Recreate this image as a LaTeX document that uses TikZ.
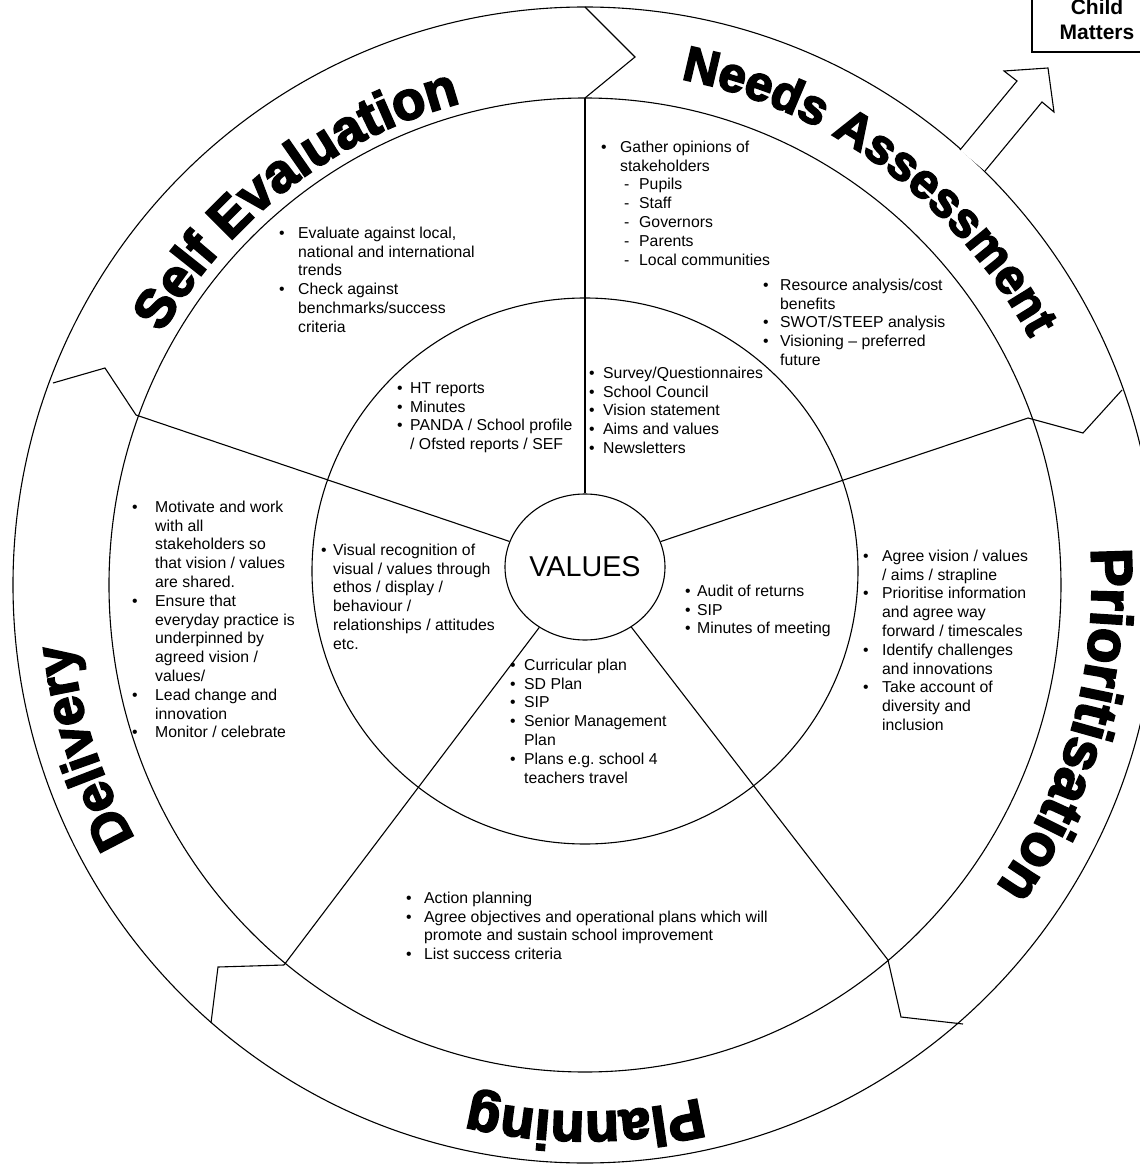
\documentclass[tikz,border=0pt]{standalone}
\usepackage{fontspec}
\setmainfont{Liberation Sans}
\newfontfamily\labelfamily{Liberation Sans}[BoldFeatures={FakeBold=3.5}]
\usetikzlibrary{shapes.geometric,decorations.text}
\frenchspacing
\newcommand{\bodysize}{\fontsize{15.8}{18.8}\selectfont}
\newcommand{\blist}[2]{\begin{tabular}{@{}p{#1}@{}l@{}}#2\end{tabular}}
\newcommand{\dashitem}{\makebox[19pt][l]{\hspace{4pt}-}}
\tikzset{
  ring/.style={line width=1.1pt},
  note/.style={anchor=north west, inner sep=0pt, font=\bodysize},
  bandlabel/.style 2 args={decorate, decoration={text along path, text align=center,
      text={|\labelfamily\bfseries\fontsize{#1}{#1}\selectfont|#2}}}
}
\begin{document}
\begin{tikzpicture}[x=1pt,y=1pt]
  \useasboundingbox (-585,-583) rectangle (555,585);
  \fill[white] (-585,-583) rectangle (555,585);
  \draw[ring] (0,0) ellipse[x radius=572pt, y radius=578pt];
  \draw[ring] (0,0) ellipse[x radius=476pt, y radius=487pt];
  \draw[ring] (0,14) circle[radius=273pt];
  \node[draw, ring, ellipse, minimum width=160, minimum height=146, inner sep=0pt,
    font=\fontsize{28.7}{30}\selectfont] (values) at (0,18) {VALUES};
  \path
    (0,487) coordinate (in1)
    (443,167) coordinate (in2)
    (303,-375) coordinate (in3)
    (-301,-380) coordinate (in4)
    (-449,170) coordinate (in5)
    (50,528) coordinate (tip1)
    (498,152) coordinate (tip2)
    (316,-432) coordinate (tip3)
    (-367,-382) coordinate (tip4)
    (-480,217) coordinate (tip5)
    (0,578) coordinate (out1)
    (537,195) coordinate (out2)
    (378,-439) coordinate (out3)
    (-374,-438) coordinate (out4)
    (-532,202) coordinate (out5);
  \begin{scope}[ring]
    \draw (values) to (in1);
    \draw (values) to (in2);
    \draw (values) to (in3);
    \draw (values) to (in4);
    \draw (values) to (in5);
    \draw (out1) -- (tip1) -- (in1);
    \draw (out2) -- (tip2) -- (in2);
    \draw (out3) -- (tip3) -- (in3);
    \draw (out4) -- (tip4) -- (in4);
    \draw (out5) -- (tip5) -- (in5);
  \end{scope}
  \draw[ring, fill=white] (375,435) -- (432,504) -- (419,514) -- (463,517)
    -- (469,473) -- (457,483) -- (400,414);
  \draw[ring] (447,533) rectangle (577,615);
  \node[inner sep=0pt, align=center, font=\bfseries\fontsize{21}{25}\selectfont]
    (ecm) at (512,566) {Child\\Matters};
  \path[bandlabel={54}{Self Evaluation}] (172:490pt and 498pt)
    arc[start angle=172, end angle=82, x radius=490pt, y radius=498pt];
  \path[bandlabel={49}{Needs Assessment}] (99:507pt and 515pt)
    arc[start angle=99, end angle=9, x radius=507pt, y radius=515pt];
  \path[bandlabel={58}{Prioritisation}] (29:507pt and 515pt)
    arc[start angle=29, end angle=-61, x radius=507pt, y radius=515pt];
  \path[bandlabel={55}{Planning}] (-45:507pt and 527pt)
    arc[start angle=-45, end angle=-135, x radius=507pt, y radius=527pt];
  \path[bandlabel={53}{Delivery}] (243:517pt and 515pt)
    arc[start angle=243, end angle=153, x radius=517pt, y radius=515pt];
  \node[note] (gather) at (16,446) {\blist{19pt}{
    \textbullet & Gather opinions of\\
     & stakeholders\\
     & \dashitem Pupils\\
     & \dashitem Staff\\
     & \dashitem Governors\\
     & \dashitem Parents\\
     & \dashitem Local communities}};
  \node[note] (resource) at (178,308) {\blist{17pt}{
    \textbullet & Resource analysis/cost\\
     & benefits\\
    \textbullet & SWOT/STEEP analysis\\
    \textbullet & Visioning – preferred\\
     & future}};
  \node[note] (evaluate) at (-306,360) {\blist{19pt}{
    \textbullet & Evaluate against local,\\
     & national and international\\
     & trends\\
    \textbullet & Check against\\
     & benchmarks/success\\
     & criteria}};
  \node[note] (reports) at (-188,205) {\blist{13pt}{
    \textbullet & HT reports\\
    \textbullet & Minutes\\
    \textbullet & PANDA / School profile\\
     & / Ofsted reports / SEF}};
  \node[note] (survey) at (4,220) {\blist{14pt}{
    \textbullet & Survey/Questionnaires\\
    \textbullet & School Council\\
    \textbullet & Vision statement\\
    \textbullet & Aims and values\\
    \textbullet & Newsletters}};
  \node[note] (motivate) at (-453,86) {\blist{23pt}{
    \textbullet & Motivate and work\\
     & with all\\
     & stakeholders so\\
     & that vision / values\\
     & are shared.\\
    \textbullet & Ensure that\\
     & everyday practice is\\
     & underpinned by\\
     & agreed vision /\\
     & values/\\
    \textbullet & Lead change and\\
     & innovation\\
    \textbullet & Monitor / celebrate}};
  \node[note] (visual) at (-264,43) {\blist{12pt}{
    \textbullet & Visual recognition of\\
     & visual / values through\\
     & ethos / display /\\
     & behaviour /\\
     & relationships / attitudes\\
     & etc.}};
  \node[note] (audit) at (100,2) {\blist{12pt}{
    \textbullet & Audit of returns\\
    \textbullet & SIP\\
    \textbullet & Minutes of meeting}};
  \node[note] (agree) at (278,37) {\blist{19pt}{
    \textbullet & Agree vision / values\\
     & / aims / strapline\\
    \textbullet & Prioritise information\\
     & and agree way\\
     & forward / timescales\\
    \textbullet & Identify challenges\\
     & and innovations\\
    \textbullet & Take account of\\
     & diversity and\\
     & inclusion}};
  \node[note] (curricular) at (-75,-72) {\blist{14pt}{
    \textbullet & Curricular plan\\
    \textbullet & SD Plan\\
    \textbullet & SIP\\
    \textbullet & Senior Management\\
     & Plan\\
    \textbullet & Plans e.g. school 4\\
     & teachers travel}};
  \node[note] (action) at (-179,-305) {\blist{18pt}{
    \textbullet & Action planning\\
    \textbullet & Agree objectives and operational plans which will\\
     & promote and sustain school improvement\\
    \textbullet & List success criteria}};
\end{tikzpicture}
\end{document}
